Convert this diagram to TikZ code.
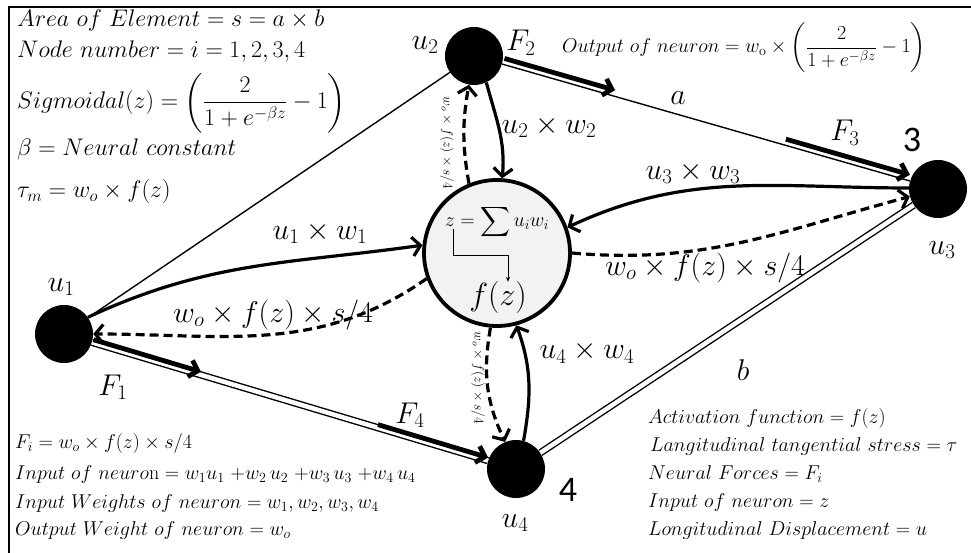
\RequirePackage{fix-cm}
\documentclass[tikz,border=0pt]{standalone}
\usepackage{amsmath}
\usepackage{fontspec}
\newfontfamily\calib{Carlito}
\usetikzlibrary{arrows.meta,calc}
\tikzset{
  neuron/.style = {circle, fill=black, minimum size=58pt, inner sep=0pt},
  cell/.style   = {circle, draw, line width=3.8pt, fill=black!5,
                   minimum size=146pt, inner sep=0pt},
  side/.style   = {line width=1.4pt},
  dbl/.style    = {double, double distance=4.5pt, line width=1.4pt},
  force/.style  = {line width=4.8pt, -{Straight Barb[length=8pt,width=17pt]}},
  syn/.style    = {line width=3.2pt, -{Straight Barb[length=8pt,width=19pt]}},
  fb/.style     = {syn, dash pattern=on 9pt off 5pt},
  elbow/.style  = {line width=0.8pt, -{Stealth[length=5pt,width=4pt]}},
  big/.style    = {font=\fontsize{24}{28}\selectfont, anchor=west, inner sep=0pt},
  note/.style   = {font=\fontsize{20}{24}\selectfont, anchor=west, inner sep=0pt},
  lbl/.style    = {font=\fontsize{30}{34}\selectfont, inner sep=0pt},
  vlbl/.style   = {font=\fontsize{13.5}{16}\selectfont, rotate=-90, inner sep=0pt},
  num/.style    = {font=\calib\fontsize{36}{40}\selectfont, inner sep=0pt}
}

\begin{document}
\begin{tikzpicture}[x=1pt,y=-1pt]
\useasboundingbox (0,0) rectangle (971,553);
\draw[line width=1.5pt] (9,570) -- (9,7) -- (990,7); % frame

% nodes of the element
\node[neuron] (u1) at (64,334) {};
\node[neuron] (u2) at (474,56) {};
\node[neuron] (u3) at (938,189) {};
\node[neuron] (u4) at (516,469) {};
\node[cell] (f) at (497,253) {};

% sides a and b
\draw[side] (u1) -- (u2);
\draw[side] (u2) -- (u3);
\draw[dbl] (u1) -- (u4);
\draw[dbl] (u4) -- (u3);

% neural forces
\coordinate (p1) at ($(u1)!3pt!90:(u4)$);
\coordinate (p4) at ($(u4)!3pt!-90:(u1)$);
\coordinate (q2) at ($(u2)!6pt!90:(u3)$);
\coordinate (q3) at ($(u3)!6pt!-90:(u2)$);
\draw[force] ($(p1)!30pt!(p4)$) -- ($(p1)!142pt!(p4)$);
\draw[force] ($(p4)!145pt!(p1)$) -- ($(p4)!30pt!(p1)$);
\draw[force] ($(q2)!30pt!(q3)$) -- ($(q2)!145pt!(q3)$);
\draw[force] ($(q3)!160pt!(q2)$) -- ($(q3)!31pt!(q2)$);

% inputs and outputs of the neuron
\draw[syn] (u1.35) to[out=25,in=188] (f.174);
\draw[fb] (f.200) to[out=215,in=0] (u1.0);
\draw[syn] (u2.-65) to[out=-75,in=85] (f.86);
\draw[fb] (f.112) to[out=100,in=-100] (u2.-100);
\draw[syn] (u3.178) to[out=180,in=25] (f.20);
\draw[fb] (f.0) to[out=-5,in=195] (u3.195);
\draw[syn] (u4.75) to[out=80,in=-70] (f.-75);
\draw[fb] (f.-95) to[out=-100,in=115] (u4.112);

% inside the neuron
\node[font=\fontsize{20}{24}\selectfont, inner sep=0pt] (zt) at (497,222) {$z=\displaystyle\sum u_iw_i$};
\node[font=\fontsize{32}{36}\selectfont, inner sep=0pt] (fz) at (498,298) {$f(z)$};
\coordinate (zs) at (453,229);
\draw[elbow] (zs) -- ++(0,26) -| ([xshift=10pt]fz.north);

% labels
\node[lbl] (l1) at (61,287) {$u_1$};
\node[lbl] (l2) at (425,45) {$u_2$};
\node[lbl] (l3) at (942,250) {$u_3$};
\node[lbl] (l4) at (515,523) {$u_4$};
\node[num] (n3) at (912,140) {3};
\node[num] (n4) at (568,490) {4};
\node[lbl] (f1) at (113,387) {$F_1$};
\node[lbl] (f2) at (521,43) {$F_2$};
\node[lbl] (f3) at (845,133) {$F_3$};
\node[lbl] (f4) at (410,415) {$F_4$};
\node[lbl] (sa) at (678,98) {$a$};
\node[lbl] (sb) at (743,370) {$b$};
\node[lbl] (w1) at (320,233) {$u_1\times w_1$};
\node[lbl] (w2) at (549,127) {$u_2\times w_2$};
\node[lbl] (w3) at (693,173) {$u_3\times w_3$};
\node[lbl] (w4) at (587,352) {$u_4\times w_4$};
\node[lbl] (o1) at (273,315) {$w_o\times f(z)\times s/4$};
\node[lbl] (o3) at (705,268) {$w_o\times f(z)\times s/4$};
\node[vlbl] (o2) at (447,143) {$w_o\times f(z)\times s/4$};
\node[vlbl] (o4) at (478,378) {$w_o\times f(z)\times s/4$};

% notes
\node[big] (t1) at (17,21) {$Area\ of\ Element = s = a\times b$};
\node[big] (t2) at (17,52) {$Node\ number = i = 1,2,3,4$};
\node[big] (t3) at (17,103) {$Sigmoidal(z) = \biggl(\dfrac{2}{1+e^{-\beta z}}-1\biggr)$};
\node[big] (t4) at (17,150) {$\beta = Neural\ constant$};
\node[big] (t5) at (17,192) {$\tau_m = w_o\times f(z)$};
\node[note] (t6) at (562,48) {$Output\ of\ neuron = w_{\mathrm{o}}\times\left(\dfrac{2}{1+e^{-\beta z}}-1\right)$};
\node[note] (b1) at (15,443) {$F_i = w_o\times f(z)\times s/4$};
\node[note] (b2) at (15,474) {$Input\ of\ neuro$n$\;=w_1u_1\ {+}w_2\,u_2\ {+}w_3\,u_3\ {+}w_4\,u_4$};
\node[note] (b3) at (15,503) {$Input\ Weights\ of\ neuron = w_1,w_2,w_3,w_4$};
\node[note] (b4) at (15,530) {$Output\ Weight\ of\ neuron = w_o$};
\node[note] (r1) at (648,418) {$Activation\ function = f(z)$};
\node[note] (r2) at (650,446) {$Langitudinal\ tangential\ stress = \tau$};
\node[note] (r3) at (648,474) {$Neural\ Forces = F_i$};
\node[note] (r4) at (648,502) {$Input\ of\ neuron = z$};
\node[note] (r5) at (648,530) {$Longitudinal\ Displacement = u$};
\end{tikzpicture}
\end{document}
